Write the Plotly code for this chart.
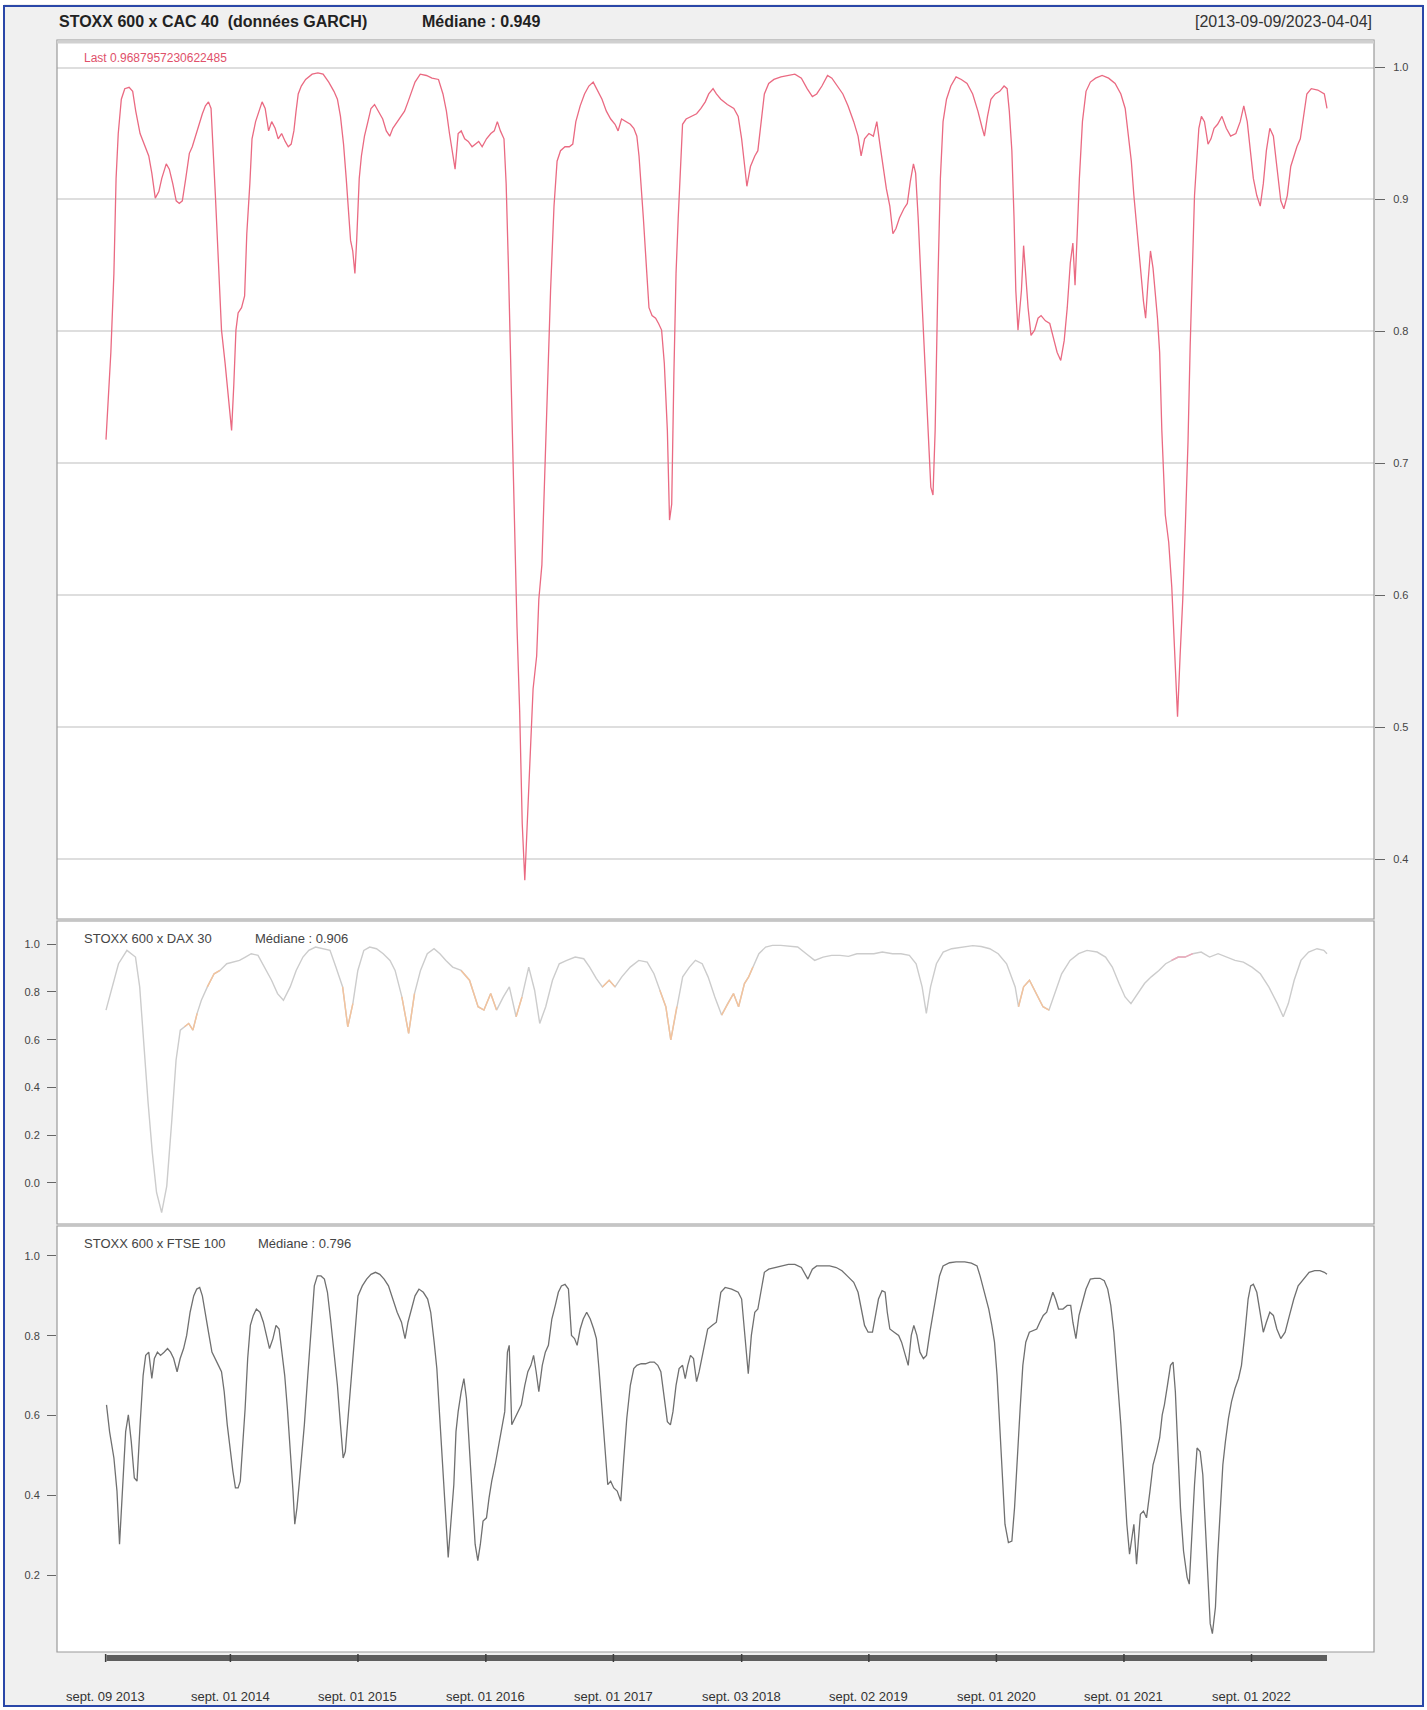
import plotly.graph_objects as go
import pandas as pd

# ---------------- DATA (decimal years, correlation values) -------------
cac_years = [2013.690, 2013.728, 2013.752, 2013.769, 2013.786, 2013.810, 2013.837, 2013.871, 2013.899, 2013.923,
             2013.957, 2013.991, 2014.025, 2014.049, 2014.076, 2014.104, 2014.127, 2014.162, 2014.186, 2014.213,
             2014.240, 2014.264, 2014.288, 2014.315, 2014.343, 2014.366, 2014.390, 2014.418, 2014.445, 2014.469,
             2014.493, 2014.513, 2014.527, 2014.547, 2014.571, 2014.595, 2014.623, 2014.650, 2014.674, 2014.691,
             2014.708, 2014.725, 2014.752, 2014.776, 2014.793, 2014.817, 2014.834, 2014.862, 2014.889, 2014.913,
             2014.937, 2014.964, 2014.988, 2015.015, 2015.039, 2015.066, 2015.094, 2015.118, 2015.141, 2015.162,
             2015.179, 2015.196, 2015.220, 2015.254, 2015.305, 2015.350, 2015.391, 2015.435, 2015.476, 2015.503,
             2015.527, 2015.551, 2015.572, 2015.585, 2015.606, 2015.623, 2015.640, 2015.654, 2015.674, 2015.691,
             2015.715, 2015.742, 2015.766, 2015.794, 2015.824, 2015.858, 2015.886, 2015.913, 2015.937, 2015.971,
             2016.005, 2016.029, 2016.056, 2016.084, 2016.111, 2016.152, 2016.200, 2016.244, 2016.295, 2016.330,
             2016.357, 2016.381, 2016.405, 2016.425, 2016.449, 2016.473, 2016.500, 2016.528, 2016.558, 2016.586,
             2016.610, 2016.637, 2016.671, 2016.705, 2016.732, 2016.756, 2016.780, 2016.808, 2016.825, 2016.842,
             2016.859, 2016.876, 2016.893, 2016.910, 2016.931, 2016.951, 2016.971, 2016.992, 2017.012, 2017.036,
             2017.064, 2017.081, 2017.105, 2017.125, 2017.149, 2017.173, 2017.200, 2017.224, 2017.251, 2017.286,
             2017.320, 2017.347, 2017.371, 2017.405, 2017.439, 2017.473, 2017.507, 2017.542, 2017.576, 2017.610,
             2017.644, 2017.678, 2017.702, 2017.729, 2017.764, 2017.798, 2017.825, 2017.849, 2017.866, 2017.883,
             2017.900, 2017.927, 2017.944, 2017.968, 2017.996, 2018.019, 2018.043, 2018.064, 2018.088, 2018.105,
             2018.122, 2018.139, 2018.156, 2018.173, 2018.194, 2018.207, 2018.235, 2018.276, 2018.317, 2018.351,
             2018.385, 2018.412, 2018.446, 2018.472, 2018.507, 2018.558, 2018.609, 2018.643, 2018.670, 2018.694,
             2018.711, 2018.739, 2018.773, 2018.797, 2018.821, 2018.848, 2018.882, 2018.923, 2018.978, 2019.036,
             2019.087, 2019.138, 2019.183, 2019.224, 2019.258, 2019.299, 2019.343, 2019.377, 2019.422, 2019.463,
             2019.503, 2019.548, 2019.582, 2019.606, 2019.633, 2019.667, 2019.702, 2019.729, 2019.753, 2019.777,
             2019.804, 2019.831, 2019.855, 2019.879, 2019.906, 2019.941, 2019.968, 2019.992, 2020.016, 2020.033,
             2020.053, 2020.077, 2020.101, 2020.128, 2020.152, 2020.169, 2020.186, 2020.207, 2020.227, 2020.248,
             2020.275, 2020.309, 2020.350, 2020.391, 2020.436, 2020.480, 2020.521, 2020.555, 2020.572, 2020.596,
             2020.623, 2020.657, 2020.692, 2020.726, 2020.750, 2020.767, 2020.787, 2020.804, 2020.818, 2020.835,
             2020.862, 2020.879, 2020.896, 2020.914, 2020.937, 2020.965, 2020.992, 2021.016, 2021.050, 2021.084,
             2021.118, 2021.142, 2021.170, 2021.197, 2021.221, 2021.245, 2021.265, 2021.282, 2021.299, 2021.316,
             2021.340, 2021.368, 2021.402, 2021.443, 2021.494, 2021.545, 2021.596, 2021.641, 2021.675, 2021.699,
             2021.723, 2021.743, 2021.767, 2021.791, 2021.818, 2021.835, 2021.852, 2021.873, 2021.893, 2021.910,
             2021.928, 2021.945, 2021.962, 2021.989, 2022.016, 2022.040, 2022.064, 2022.085, 2022.105, 2022.126,
             2022.146, 2022.167, 2022.184, 2022.201, 2022.218, 2022.235, 2022.252, 2022.272, 2022.296, 2022.324,
             2022.347, 2022.371, 2022.399, 2022.433, 2022.467, 2022.501, 2022.542, 2022.576, 2022.604, 2022.631,
             2022.655, 2022.679, 2022.706, 2022.733, 2022.757, 2022.781, 2022.808, 2022.836, 2022.863, 2022.894,
             2022.918, 2022.945, 2022.972, 2022.996, 2023.020, 2023.047, 2023.075, 2023.098, 2023.133, 2023.184,
             2023.235, 2023.256]
cac_values = [0.718, 0.784, 0.844, 0.916, 0.950, 0.976, 0.984, 0.985, 0.982, 0.967,
              0.950, 0.942, 0.933, 0.920, 0.901, 0.906, 0.916, 0.927, 0.923, 0.912,
              0.899, 0.897, 0.899, 0.916, 0.935, 0.940, 0.948, 0.957, 0.965, 0.971,
              0.974, 0.969, 0.937, 0.903, 0.852, 0.801, 0.776, 0.750, 0.725, 0.759,
              0.801, 0.814, 0.818, 0.827, 0.874, 0.912, 0.946, 0.959, 0.967, 0.974,
              0.969, 0.952, 0.959, 0.954, 0.946, 0.950, 0.944, 0.940, 0.942, 0.952,
              0.967, 0.980, 0.986, 0.991, 0.995, 0.996, 0.995, 0.989, 0.982, 0.976,
              0.963, 0.942, 0.916, 0.895, 0.869, 0.861, 0.844, 0.869, 0.916, 0.933,
              0.948, 0.959, 0.969, 0.972, 0.967, 0.961, 0.952, 0.948, 0.954, 0.959,
              0.963, 0.967, 0.974, 0.982, 0.989, 0.995, 0.994, 0.992, 0.991, 0.980,
              0.967, 0.950, 0.933, 0.923, 0.950, 0.952, 0.946, 0.944, 0.940, 0.942,
              0.944, 0.940, 0.946, 0.950, 0.952, 0.959, 0.952, 0.946, 0.912, 0.852,
              0.784, 0.716, 0.640, 0.576, 0.512, 0.427, 0.384, 0.427, 0.478, 0.529,
              0.554, 0.597, 0.623, 0.682, 0.767, 0.831, 0.895, 0.929, 0.937, 0.940,
              0.940, 0.942, 0.959, 0.971, 0.980, 0.986, 0.989, 0.982, 0.976, 0.967,
              0.961, 0.957, 0.952, 0.961, 0.959, 0.957, 0.954, 0.948, 0.933, 0.912,
              0.886, 0.844, 0.818, 0.812, 0.810, 0.806, 0.801, 0.776, 0.725, 0.657,
              0.669, 0.767, 0.844, 0.886, 0.929, 0.957, 0.961, 0.963, 0.965, 0.969,
              0.974, 0.980, 0.984, 0.980, 0.976, 0.972, 0.969, 0.963, 0.946, 0.925,
              0.910, 0.925, 0.933, 0.937, 0.959, 0.980, 0.988, 0.991, 0.993, 0.994,
              0.995, 0.992, 0.984, 0.978, 0.980, 0.986, 0.994, 0.992, 0.986, 0.980,
              0.971, 0.959, 0.948, 0.933, 0.946, 0.950, 0.948, 0.959, 0.942, 0.925,
              0.908, 0.895, 0.874, 0.878, 0.886, 0.893, 0.897, 0.914, 0.927, 0.920,
              0.886, 0.835, 0.784, 0.725, 0.682, 0.676, 0.725, 0.835, 0.916, 0.959,
              0.976, 0.986, 0.993, 0.991, 0.988, 0.980, 0.967, 0.954, 0.948, 0.963,
              0.976, 0.980, 0.982, 0.986, 0.984, 0.967, 0.937, 0.886, 0.831, 0.801,
              0.831, 0.865, 0.844, 0.818, 0.797, 0.801, 0.810, 0.812, 0.808, 0.806,
              0.793, 0.784, 0.778, 0.793, 0.818, 0.852, 0.867, 0.835, 0.874, 0.916,
              0.959, 0.982, 0.989, 0.992, 0.994, 0.992, 0.988, 0.980, 0.969, 0.950,
              0.929, 0.903, 0.874, 0.852, 0.823, 0.810, 0.835, 0.861, 0.848, 0.831,
              0.810, 0.784, 0.725, 0.661, 0.640, 0.606, 0.554, 0.508, 0.554, 0.597,
              0.652, 0.716, 0.789, 0.852, 0.903, 0.929, 0.954, 0.963, 0.959, 0.942,
              0.946, 0.954, 0.957, 0.963, 0.954, 0.948, 0.950, 0.959, 0.971, 0.959,
              0.937, 0.916, 0.903, 0.895, 0.912, 0.937, 0.954, 0.948, 0.925, 0.899,
              0.893, 0.903, 0.925, 0.933, 0.940, 0.946, 0.967, 0.980, 0.984, 0.983,
              0.980, 0.969]

dax_years = [2013.690, 2013.788, 2013.854, 2013.921, 2013.954, 2013.987, 2014.020, 2014.053, 2014.086, 2014.126,
             2014.166, 2014.206, 2014.239, 2014.272, 2014.305, 2014.338, 2014.371, 2014.404, 2014.437, 2014.484,
             2014.537, 2014.583, 2014.636, 2014.683, 2014.736, 2014.782, 2014.828, 2014.881, 2014.934, 2014.987,
             2015.034, 2015.080, 2015.133, 2015.180, 2015.233, 2015.279, 2015.332, 2015.385, 2015.445, 2015.491,
             2015.544, 2015.584, 2015.624, 2015.663, 2015.710, 2015.756, 2015.809, 2015.862, 2015.915, 2015.955,
             2016.008, 2016.061, 2016.107, 2016.154, 2016.207, 2016.260, 2016.306, 2016.353, 2016.406, 2016.472,
             2016.538, 2016.605, 2016.651, 2016.704, 2016.750, 2016.803, 2016.850, 2016.903, 2016.949, 2017.002,
             2017.048, 2017.088, 2017.135, 2017.188, 2017.241, 2017.300, 2017.366, 2017.433, 2017.479, 2017.532,
             2017.579, 2017.632, 2017.678, 2017.731, 2017.797, 2017.864, 2017.930, 2017.983, 2018.029, 2018.076,
             2018.115, 2018.162, 2018.208, 2018.261, 2018.308, 2018.361, 2018.407, 2018.460, 2018.513, 2018.560,
             2018.606, 2018.646, 2018.692, 2018.725, 2018.758, 2018.805, 2018.858, 2018.911, 2018.977, 2019.043,
             2019.109, 2019.176, 2019.242, 2019.308, 2019.375, 2019.441, 2019.507, 2019.573, 2019.640, 2019.706,
             2019.772, 2019.852, 2019.918, 2019.984, 2020.037, 2020.084, 2020.117, 2020.150, 2020.196, 2020.249,
             2020.315, 2020.395, 2020.481, 2020.547, 2020.614, 2020.680, 2020.746, 2020.813, 2020.839, 2020.879,
             2020.925, 2020.978, 2021.031, 2021.078, 2021.124, 2021.177, 2021.243, 2021.310, 2021.376, 2021.455,
             2021.521, 2021.574, 2021.627, 2021.674, 2021.720, 2021.773, 2021.826, 2021.879, 2021.939, 2021.992,
             2022.038, 2022.091, 2022.144, 2022.204, 2022.270, 2022.336, 2022.403, 2022.469, 2022.535, 2022.601,
             2022.668, 2022.734, 2022.800, 2022.867, 2022.913, 2022.953, 2022.999, 2023.052, 2023.112, 2023.178,
             2023.231, 2023.256]
dax_values = [0.724, 0.918, 0.974, 0.946, 0.821, 0.571, 0.335, 0.126, -0.040, -0.124,
              -0.013, 0.265, 0.515, 0.640, 0.654, 0.668, 0.640, 0.710, 0.765, 0.821,
              0.876, 0.890, 0.918, 0.925, 0.932, 0.946, 0.960, 0.953, 0.904, 0.849,
              0.793, 0.765, 0.821, 0.890, 0.946, 0.974, 0.988, 0.981, 0.974, 0.904,
              0.821, 0.654, 0.751, 0.890, 0.974, 0.988, 0.981, 0.960, 0.932, 0.890,
              0.779, 0.626, 0.793, 0.890, 0.960, 0.981, 0.960, 0.932, 0.904, 0.890,
              0.849, 0.738, 0.724, 0.793, 0.724, 0.779, 0.821, 0.696, 0.779, 0.904,
              0.807, 0.668, 0.738, 0.849, 0.918, 0.932, 0.946, 0.939, 0.904, 0.856,
              0.821, 0.849, 0.821, 0.863, 0.904, 0.932, 0.925, 0.876, 0.807, 0.738,
              0.599, 0.738, 0.863, 0.904, 0.932, 0.918, 0.863, 0.779, 0.703, 0.751,
              0.793, 0.738, 0.835, 0.863, 0.904, 0.960, 0.988, 0.995, 0.995, 0.993,
              0.988, 0.960, 0.932, 0.946, 0.953, 0.953, 0.949, 0.960, 0.960, 0.960,
              0.967, 0.960, 0.960, 0.953, 0.918, 0.821, 0.710, 0.821, 0.918, 0.967,
              0.981, 0.988, 0.994, 0.990, 0.981, 0.960, 0.918, 0.821, 0.738, 0.821,
              0.849, 0.793, 0.738, 0.724, 0.793, 0.876, 0.932, 0.960, 0.974, 0.967,
              0.946, 0.904, 0.835, 0.779, 0.751, 0.793, 0.835, 0.863, 0.890, 0.918,
              0.932, 0.946, 0.946, 0.960, 0.967, 0.946, 0.960, 0.946, 0.932, 0.925,
              0.904, 0.876, 0.821, 0.751, 0.696, 0.751, 0.849, 0.932, 0.967, 0.981,
              0.974, 0.960]
# sub-periods drawn in orange / pink on the DAX line (decimal years)
dax_orange_periods = [(2014.28, 2014.42), (2014.48, 2014.59), (2015.54, 2015.64), (2016.00, 2016.11),
                      (2016.47, 2016.61), (2016.64, 2016.80), (2016.87, 2017.00), (2017.55, 2017.70),
                      (2018.02, 2018.17), (2018.49, 2018.61), (2018.64, 2018.76), (2020.83, 2021.11)]
dax_pink_periods = [(2022.03, 2022.21)]

ftse_years = [2013.694, 2013.718, 2013.752, 2013.776, 2013.796, 2013.820, 2013.844, 2013.865, 2013.888, 2013.912,
              2013.933, 2013.957, 2013.981, 2014.001, 2014.025, 2014.049, 2014.069, 2014.093, 2014.117, 2014.145,
              2014.172, 2014.196, 2014.220, 2014.247, 2014.271, 2014.298, 2014.322, 2014.349, 2014.377, 2014.401,
              2014.424, 2014.445, 2014.469, 2014.493, 2014.520, 2014.547, 2014.571, 2014.595, 2014.616, 2014.640,
              2014.663, 2014.684, 2014.704, 2014.725, 2014.742, 2014.759, 2014.780, 2014.800, 2014.821, 2014.844,
              2014.868, 2014.896, 2014.923, 2014.947, 2014.971, 2014.998, 2015.022, 2015.046, 2015.066, 2015.090,
              2015.111, 2015.135, 2015.155, 2015.169, 2015.186, 2015.203, 2015.223, 2015.244, 2015.271, 2015.298,
              2015.322, 2015.346, 2015.374, 2015.401, 2015.425, 2015.449, 2015.476, 2015.503, 2015.527, 2015.548,
              2015.565, 2015.585, 2015.613, 2015.640, 2015.664, 2015.698, 2015.732, 2015.766, 2015.801, 2015.835,
              2015.869, 2015.903, 2015.937, 2015.971, 2016.005, 2016.033, 2016.056, 2016.084, 2016.111, 2016.142,
              2016.176, 2016.210, 2016.234, 2016.261, 2016.282, 2016.302, 2016.323, 2016.347, 2016.371, 2016.391,
              2016.415, 2016.432, 2016.449, 2016.473, 2016.494, 2016.514, 2016.535, 2016.559, 2016.582, 2016.603,
              2016.623, 2016.644, 2016.671, 2016.691, 2016.712, 2016.739, 2016.767, 2016.790, 2016.814, 2016.835,
              2016.849, 2016.869, 2016.893, 2016.917, 2016.944, 2016.971, 2016.995, 2017.019, 2017.040, 2017.060,
              2017.081, 2017.108, 2017.132, 2017.156, 2017.183, 2017.210, 2017.234, 2017.258, 2017.286, 2017.313,
              2017.337, 2017.361, 2017.381, 2017.405, 2017.429, 2017.456, 2017.484, 2017.511, 2017.532, 2017.552,
              2017.576, 2017.600, 2017.621, 2017.644, 2017.668, 2017.695, 2017.723, 2017.747, 2017.770, 2017.798,
              2017.825, 2017.849, 2017.883, 2017.917, 2017.951, 2017.985, 2018.013, 2018.037, 2018.064, 2018.088,
              2018.112, 2018.132, 2018.156, 2018.180, 2018.207, 2018.228, 2018.248, 2018.269, 2018.293, 2018.317,
              2018.337, 2018.361, 2018.404, 2018.438, 2018.472, 2018.507, 2018.541, 2018.592, 2018.643, 2018.670,
              2018.694, 2018.722, 2018.746, 2018.773, 2018.797, 2018.821, 2018.848, 2018.882, 2018.933, 2018.985,
              2019.036, 2019.087, 2019.138, 2019.189, 2019.224, 2019.258, 2019.309, 2019.360, 2019.411, 2019.456,
              2019.497, 2019.548, 2019.582, 2019.606, 2019.633, 2019.661, 2019.695, 2019.719, 2019.742, 2019.770,
              2019.794, 2019.811, 2019.831, 2019.865, 2019.900, 2019.923, 2019.947, 2019.975, 2019.999, 2020.019,
              2020.043, 2020.067, 2020.094, 2020.118, 2020.145, 2020.173, 2020.197, 2020.220, 2020.248, 2020.299,
              2020.350, 2020.418, 2020.470, 2020.514, 2020.538, 2020.572, 2020.606, 2020.630, 2020.651, 2020.671,
              2020.692, 2020.712, 2020.733, 2020.760, 2020.787, 2020.808, 2020.828, 2020.852, 2020.873, 2020.896,
              2020.924, 2020.955, 2020.982, 2021.006, 2021.033, 2021.060, 2021.084, 2021.108, 2021.129, 2021.153,
              2021.187, 2021.221, 2021.248, 2021.265, 2021.289, 2021.313, 2021.340, 2021.368, 2021.402, 2021.436,
              2021.477, 2021.511, 2021.538, 2021.562, 2021.586, 2021.613, 2021.641, 2021.665, 2021.688, 2021.709,
              2021.726, 2021.743, 2021.764, 2021.794, 2021.818, 2021.842, 2021.869, 2021.893, 2021.921, 2021.945,
              2021.965, 2021.982, 2022.006, 2022.030, 2022.050, 2022.068, 2022.085, 2022.108, 2022.132, 2022.160,
              2022.177, 2022.194, 2022.218, 2022.238, 2022.262, 2022.283, 2022.303, 2022.324, 2022.341, 2022.358,
              2022.382, 2022.399, 2022.419, 2022.440, 2022.460, 2022.484, 2022.508, 2022.535, 2022.563, 2022.586,
              2022.611, 2022.638, 2022.658, 2022.679, 2022.706, 2022.733, 2022.757, 2022.781, 2022.808, 2022.836,
              2022.863, 2022.894, 2022.928, 2022.962, 2022.996, 2023.030, 2023.075, 2023.116, 2023.160, 2023.201,
              2023.235, 2023.256]
ftse_values = [0.627, 0.560, 0.494, 0.411, 0.278, 0.411, 0.560, 0.602, 0.535, 0.444,
               0.436, 0.577, 0.701, 0.751, 0.759, 0.693, 0.743, 0.759, 0.751, 0.759,
               0.768, 0.759, 0.743, 0.710, 0.743, 0.768, 0.801, 0.859, 0.900, 0.917,
               0.921, 0.900, 0.859, 0.809, 0.759, 0.743, 0.726, 0.710, 0.660, 0.577,
               0.510, 0.461, 0.419, 0.419, 0.436, 0.510, 0.618, 0.743, 0.826, 0.851,
               0.867, 0.859, 0.834, 0.801, 0.768, 0.793, 0.826, 0.817, 0.759, 0.701,
               0.618, 0.510, 0.411, 0.328, 0.369, 0.427, 0.494, 0.577, 0.701, 0.826,
               0.925, 0.950, 0.950, 0.942, 0.909, 0.842, 0.759, 0.676, 0.577, 0.494,
               0.510, 0.593, 0.701, 0.809, 0.900, 0.925, 0.942, 0.954, 0.959, 0.954,
               0.942, 0.925, 0.892, 0.859, 0.834, 0.793, 0.834, 0.867, 0.900, 0.917,
               0.909, 0.892, 0.859, 0.784, 0.718, 0.610, 0.494, 0.378, 0.245, 0.328,
               0.427, 0.560, 0.610, 0.660, 0.693, 0.643, 0.535, 0.411, 0.278, 0.237,
               0.278, 0.336, 0.344, 0.394, 0.436, 0.477, 0.527, 0.568, 0.610, 0.759,
               0.776, 0.577, 0.593, 0.610, 0.627, 0.676, 0.710, 0.726, 0.751, 0.710,
               0.660, 0.726, 0.759, 0.776, 0.842, 0.876, 0.909, 0.925, 0.929, 0.917,
               0.801, 0.793, 0.776, 0.817, 0.842, 0.859, 0.842, 0.817, 0.793, 0.718,
               0.618, 0.510, 0.427, 0.436, 0.419, 0.411, 0.386, 0.494, 0.593, 0.676,
               0.718, 0.726, 0.730, 0.730, 0.734, 0.734, 0.726, 0.710, 0.643, 0.585,
               0.577, 0.610, 0.676, 0.718, 0.726, 0.693, 0.726, 0.751, 0.743, 0.685,
               0.710, 0.751, 0.817, 0.826, 0.834, 0.909, 0.921, 0.917, 0.909, 0.892,
               0.809, 0.705, 0.801, 0.859, 0.867, 0.909, 0.959, 0.967, 0.971, 0.975,
               0.979, 0.979, 0.971, 0.942, 0.967, 0.975, 0.975, 0.975, 0.971, 0.963,
               0.950, 0.934, 0.909, 0.867, 0.826, 0.809, 0.809, 0.851, 0.892, 0.913,
               0.909, 0.859, 0.817, 0.809, 0.801, 0.784, 0.759, 0.726, 0.801, 0.826,
               0.801, 0.759, 0.743, 0.751, 0.809, 0.859, 0.909, 0.950, 0.975, 0.983,
               0.985, 0.985, 0.982, 0.975, 0.950, 0.909, 0.867, 0.826, 0.784, 0.701,
               0.577, 0.427, 0.328, 0.282, 0.286, 0.369, 0.494, 0.618, 0.726, 0.784,
               0.809, 0.813, 0.817, 0.834, 0.851, 0.859, 0.884, 0.909, 0.892, 0.867,
               0.867, 0.876, 0.876, 0.834, 0.793, 0.851, 0.884, 0.917, 0.942, 0.944,
               0.944, 0.938, 0.917, 0.876, 0.809, 0.701, 0.577, 0.452, 0.328, 0.253,
               0.295, 0.328, 0.228, 0.353, 0.361, 0.344, 0.411, 0.477, 0.510, 0.544,
               0.602, 0.627, 0.676, 0.726, 0.734, 0.660, 0.535, 0.369, 0.261, 0.195,
               0.178, 0.286, 0.427, 0.519, 0.510, 0.452, 0.328, 0.195, 0.079, 0.054,
               0.120, 0.245, 0.369, 0.477, 0.535, 0.593, 0.635, 0.668, 0.693, 0.726,
               0.801, 0.892, 0.925, 0.929, 0.909, 0.859, 0.809, 0.834, 0.859, 0.851,
               0.817, 0.793, 0.809, 0.851, 0.892, 0.925, 0.942, 0.959, 0.963, 0.963,
               0.959, 0.954]

x_tick_dates = ["2013-09-09", "2014-09-01", "2015-09-01", "2016-09-01", "2017-09-01",
                "2018-09-03", "2019-09-02", "2020-09-01", "2021-09-01", "2022-09-01"]
x_tick_labels = ["sept. 09 2013", "sept. 01 2014", "sept. 01 2015", "sept. 01 2016", "sept. 01 2017",
                 "sept. 03 2018", "sept. 02 2019", "sept. 01 2020", "sept. 01 2021", "sept. 01 2022"]
y1_ticks = [1.0, 0.9, 0.8, 0.7, 0.6, 0.5, 0.4]
y1_labels = ["1.0", "0.9", "0.8", "0.7", "0.6", "0.5", "0.4"]
y2_ticks = [1.0, 0.8, 0.6, 0.4, 0.2, 0.0]
y2_labels = ["1.0", "0.8", "0.6", "0.4", "0.2", "0.0"]
y3_ticks = [1.0, 0.8, 0.6, 0.4, 0.2]
y3_labels = ["1.0", "0.8", "0.6", "0.4", "0.2"]

title_main = "STOXX 600 x CAC 40  (données GARCH)"
median_main = "Médiane : 0.949"
date_span = "[2013-09-09/2023-04-04]"
last_label = "Last 0.9687957230622485"
dax_title = "STOXX 600 x DAX 30"
dax_median = "Médiane : 0.906"
ftse_title = "STOXX 600 x FTSE 100"
ftse_median = "Médiane : 0.796"


# ---------------- helpers ----------------
def to_dates(years):
    base = pd.Timestamp("2013-01-01")
    return [base + pd.Timedelta(days=(y - 2013) * 365.25) for y in years]


def masked(years, values, periods):
    out = []
    for y, v in zip(years, values):
        inside = any(a <= y <= b for a, b in periods)
        out.append(v if inside else None)
    return out


cac_x = to_dates(cac_years)
dax_x = to_dates(dax_years)
ftse_x = to_dates(ftse_years)

# ---------------- layout geometry (pixels) ----------------
W, H = 1427, 1710
PX0, PX1 = 57, 1374           # panel frame left/right
DX0, DX1 = 106, 1327          # first / last data point
P1 = (40, 919)
P2 = (921, 1224)
P3 = (1226, 1652)


def ydom(top, bot):
    return [1 - bot / H, 1 - top / H]


def py(pix):
    return 1 - pix / H


t0, tN = cac_x[0], cac_x[-1]
span = (tN - t0)
px_per = (DX1 - DX0) / span.total_seconds()
xr = [t0 - pd.Timedelta(seconds=(DX0 - PX0) / px_per), tN + pd.Timedelta(seconds=(PX1 - DX1) / px_per)]

FONT = "Liberation Sans, Arial, sans-serif"

fig = go.Figure()
fig.add_trace(go.Scatter(x=cac_x, y=cac_values, mode="lines", line=dict(color="#ea6a82", width=1.3),
                         xaxis="x", yaxis="y", showlegend=False, hoverinfo="x+y"))
fig.add_trace(go.Scatter(x=dax_x, y=dax_values, mode="lines", line=dict(color="#cccccc", width=1.4),
                         xaxis="x2", yaxis="y2", showlegend=False))
fig.add_trace(go.Scatter(x=dax_x, y=masked(dax_years, dax_values, dax_orange_periods), mode="lines",
                         line=dict(color="#f4c39c", width=1.4), connectgaps=False,
                         xaxis="x2", yaxis="y2", showlegend=False))
fig.add_trace(go.Scatter(x=dax_x, y=masked(dax_years, dax_values, dax_pink_periods), mode="lines",
                         line=dict(color="#eca8ba", width=1.4), connectgaps=False,
                         xaxis="x2", yaxis="y2", showlegend=False))
fig.add_trace(go.Scatter(x=ftse_x, y=ftse_values, mode="lines", line=dict(color="#707070", width=1.3),
                         xaxis="x3", yaxis="y3", showlegend=False))

xcommon = dict(type="date", range=xr, domain=[PX0 / W, PX1 / W], showgrid=False, showticklabels=False,
               ticks="", zeroline=False, showline=False)
tickfont = dict(family=FONT, size=11, color="#444444")

fig.update_layout(
    width=W, height=H, margin=dict(l=0, r=0, t=0, b=0),
    paper_bgcolor="#f0f0f0", plot_bgcolor="#ffffff",
    xaxis=dict(**xcommon, anchor="y"),
    xaxis2=dict(**xcommon, anchor="y2"),
    xaxis3=dict(**xcommon, anchor="y3"),
    yaxis=dict(domain=ydom(*P1), range=[0.3546, 1.0209], side="right", anchor="x",
               tickvals=y1_ticks, ticktext=y1_labels, ticks="outside", ticklen=10, tickcolor="#666666",
               ticklabelstandoff=6, tickfont=tickfont, showgrid=True, gridcolor="#dedede", gridwidth=2,
               zeroline=False, showline=False),
    yaxis2=dict(domain=ydom(*P2), range=[-0.172, 1.097], side="left", anchor="x2",
                tickvals=y2_ticks, ticktext=y2_labels, ticks="outside", ticklen=9, tickcolor="#666666",
                ticklabelstandoff=5, tickfont=tickfont, showgrid=False, zeroline=False, showline=False),
    yaxis3=dict(domain=ydom(*P3), range=[0.008, 1.075], side="left", anchor="x3",
                tickvals=y3_ticks, ticktext=y3_labels, ticks="outside", ticklen=9, tickcolor="#666666",
                ticklabelstandoff=5, tickfont=tickfont, showgrid=False, zeroline=False, showline=False),
)

shapes = []
# white margin + blue outer border
shapes.append(dict(type="rect", xref="paper", yref="paper", x0=0, x1=1, y0=0, y1=1,
                   line=dict(color="#ffffff", width=8), layer="above"))
shapes.append(dict(type="rect", xref="paper", yref="paper", x0=4 / W, x1=1 - 4 / W, y0=py(1706), y1=py(6),
                   line=dict(color="#2a47a8", width=2), layer="above"))
# panel frames
for top, bot in (P1, P2, P3):
    shapes.append(dict(type="rect", xref="paper", yref="paper", x0=PX0 / W, x1=PX1 / W, y0=py(bot), y1=py(top),
                       line=dict(color="#9a9a9a", width=1.2), layer="above"))
# light header strip on top of first panel
shapes.append(dict(type="line", xref="paper", yref="paper", x0=PX0 / W, x1=PX1 / W, y0=py(42), y1=py(42),
                   line=dict(color="#d0d0d0", width=3), layer="above"))
# dark time bar under last panel
shapes.append(dict(type="rect", xref="x3", yref="paper", x0=ftse_x[0], x1=ftse_x[-1], y0=py(1661), y1=py(1655),
                   line=dict(width=0), fillcolor="#5e5e5e", layer="above"))
for d in x_tick_dates:
    shapes.append(dict(type="line", xref="x3", yref="paper", x0=d, x1=d, y0=py(1662), y1=py(1654),
                       line=dict(color="#3c3c3c", width=1.5), layer="above"))
fig.update_layout(shapes=shapes)

ann = []
ann.append(dict(text=title_main, x=PX0 / W, y=py(22), xref="paper", yref="paper", xanchor="left", yanchor="middle",
                showarrow=False, font=dict(family=FONT, size=16, color="#222222", weight="bold")))
ann.append(dict(text=median_main, x=420 / W, y=py(22), xref="paper", yref="paper", xanchor="left", yanchor="middle",
                showarrow=False, font=dict(family=FONT, size=16, color="#222222", weight="bold")))
ann.append(dict(text=date_span, x=PX1 / W, y=py(22), xref="paper", yref="paper", xanchor="right", yanchor="middle",
                showarrow=False, font=dict(family=FONT, size=16, color="#333333")))
ann.append(dict(text=last_label, x=82 / W, y=py(58), xref="paper", yref="paper", xanchor="left", yanchor="middle",
                showarrow=False, font=dict(family=FONT, size=12, color="#e0506a")))
ann.append(dict(text=dax_title, x=82 / W, y=py(938), xref="paper", yref="paper", xanchor="left", yanchor="middle",
                showarrow=False, font=dict(family=FONT, size=13, color="#444444")))
ann.append(dict(text=dax_median, x=253 / W, y=py(938), xref="paper", yref="paper", xanchor="left", yanchor="middle",
                showarrow=False, font=dict(family=FONT, size=13, color="#444444")))
ann.append(dict(text=ftse_title, x=82 / W, y=py(1243), xref="paper", yref="paper", xanchor="left", yanchor="middle",
                showarrow=False, font=dict(family=FONT, size=13, color="#444444")))
ann.append(dict(text=ftse_median, x=256 / W, y=py(1243), xref="paper", yref="paper", xanchor="left", yanchor="middle",
                showarrow=False, font=dict(family=FONT, size=13, color="#444444")))
for d, lab in zip(x_tick_dates, x_tick_labels):
    ann.append(dict(text=lab, x=d, y=py(1696), xref="x3", yref="paper", xanchor="center", yanchor="middle",
                    showarrow=False, font=dict(family=FONT, size=13, color="#333333")))
fig.update_layout(annotations=ann)

fig.write_html("out.html", config={"displayModeBar": False},
               post_script="document.body.style.margin='0px';document.body.style.overflow='hidden';")
